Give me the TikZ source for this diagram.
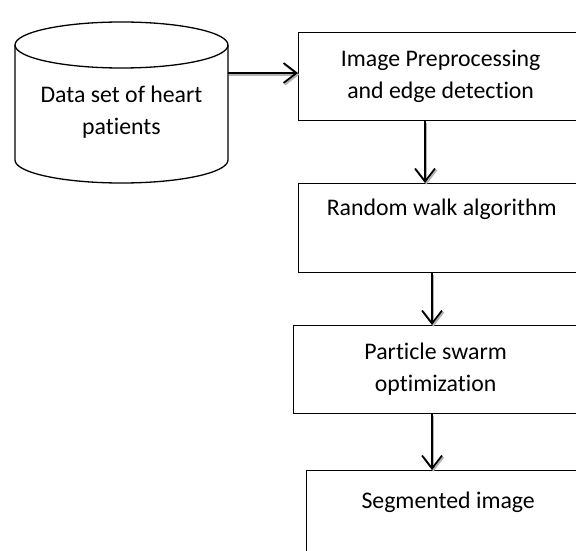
\documentclass[tikz,border=0pt]{standalone}
\usepackage{fontspec}
\setmainfont[Ligatures={NoCommon,NoContextual}]{Carlito}
\usetikzlibrary{arrows.meta}
\begin{document}
\begin{tikzpicture}[x=1pt,y=-1pt,
  stepbox/.style={draw=black,line width=1.3pt,rectangle,anchor=north west,align=center,inner sep=0pt,
    font=\fontsize{23.8}{32}\selectfont},
  flow/.style={line width=1.8pt,-{Straight Barb[length=13pt,width=20pt,line width=1.8pt]},
    preaction={draw=gray!60,line width=2pt,transform canvas={shift={(1.4pt,-1.6pt)}},
      -{Straight Barb[length=13pt,width=20pt,line width=2pt]}}}
]
\useasboundingbox (0,0) rectangle (576,551);
\clip (0,0) rectangle (576,551);
% cylinder
\fill[white] (15,45) -- (15,160) arc[start angle=180,end angle=360,x radius=106.5,y radius=-23] -- (228,45) -- cycle;
\draw[line width=1.3pt] (121.5,45) ellipse[x radius=106.5,y radius=23];
\draw[line width=1.3pt] (15,45) -- (15,160) arc[start angle=180,end angle=360,x radius=106.5,y radius=-23] -- (228,45);
\node[align=center,font=\fontsize{23.8}{32}\selectfont] (data) at (121.5,112) {Data set of heart\\patients};
\coordinate (dataR) at (228,73);
% boxes
\node[stepbox,minimum width=284pt,minimum height=88pt] (b1) at (298,32) {Image Preprocessing\\and edge detection};
\node[stepbox,minimum width=286pt,minimum height=89pt] (b2) at (298,183) {Random walk algorithm\\\strut};
\node[stepbox,minimum width=284pt,minimum height=88pt] (b3) at (293,325) {Particle swarm\\optimization};
\node[stepbox,minimum width=283pt,minimum height=100pt] (b4) at (306,470) {Segmented image\\\strut};
% connectors
\coordinate (xa) at (425,0);
\coordinate (xb) at (432,0);
\draw[flow] (dataR) -- (b1.west |- dataR);
\draw[flow] (xa |- b1.south) -- (xa |- b2.north);
\draw[flow] (xb |- b2.south) -- (xb |- b3.north);
\draw[flow] (xb |- b3.south) -- (xb |- b4.north);
\end{tikzpicture}
\end{document}
